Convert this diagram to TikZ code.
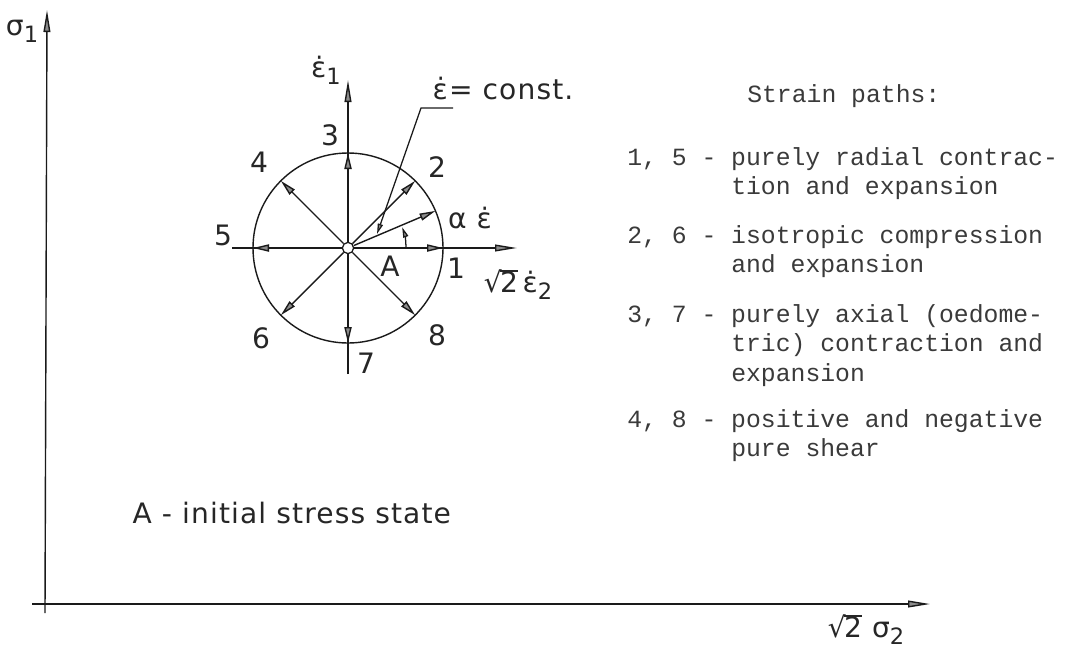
\documentclass[tikz,border=0pt]{standalone}
\usepackage{fontspec}
\setmainfont{DejaVu Sans}[LetterSpace=4.0]
\newfontfamily\listfont{Liberation Mono}
\usepackage{xcolor}
\definecolor{cLine}{HTML}{1A1A1A}
\definecolor{cTip}{HTML}{8C8C8C}
\definecolor{cText}{HTML}{262626}
\definecolor{cList}{HTML}{3A3A3A}
\usepackage{tikz}
\usetikzlibrary{positioning,arrows.meta,calc}
% Index tief gestellt, fast in voller Groesse
\newcommand{\lowidx}[1]{\raisebox{-0.45ex}{\fontsize{16}{16}\selectfont #1}}
% Wurzel aus 2 in Schrift des Textes
\newcommand{\rttwo}{√\kern-0.06em\rlap{\rule[0.74em]{0.64em}{0.065em}}2}
\tikzset{
  node-lbl/.style={inner sep=1pt,text=cText,font=\fontsize{20}{23}\selectfont},
  node-list/.style={inner sep=0pt,anchor=base west,text=cList,
    font=\listfont\fontsize{17.6}{21}\selectfont},
  node-origin/.style={draw=cLine,line width=0.9pt,circle,fill=white,
    inner sep=0pt,minimum size=8},
  % Achsen: lange graue Spitzen, Pfade: kurze Spitzen am Kreis
  arrow-axis/.style={-{Triangle[length=5.5mm,width=1.7mm,fill=cTip]},
    line width=1pt,draw=cLine},
  arrow-path/.style={-{Triangle[length=4mm,width=1.8mm,fill=cTip]},
    line width=1pt,draw=cLine},
  arrow-small/.style={-{Triangle[length=2.6mm,width=1.3mm,fill=cTip]},
    line width=0.9pt,draw=cLine},
}

\begin{document}
\begin{tikzpicture}[x=0.025cm,y=-0.025cm]
  \useasboundingbox (0,0) rectangle (1083,653);

  % stress plane
  \coordinate (sx0) at (32,604);
  \coordinate (sx1) at (930,604);
  \coordinate (sy0) at (45,613);
  \coordinate (sy1) at (47,10);
  \draw[arrow-axis] (sx0) -- (sx1);
  \draw[arrow-axis] (sy0) -- (sy1);
  \node[node-lbl] (sig1) at (22,31) {σ\lowidx{1}};
  \node[node-lbl] (sig2) at (866,630) {\rttwo\ σ\lowidx{2}};

  % strain rate circle round A
  \coordinate (c) at (348,248);
  \draw[line width=1pt,draw=cLine] (c) circle[radius=95];
  \coordinate (ex0) at (232,248);
  \coordinate (ex1) at (517,248);
  \coordinate (ey0) at (348,374);
  \coordinate (ey1) at (348,80);
  \draw[arrow-axis] (ex0) -- (ex1);
  \draw[arrow-axis] (ey0) -- (ey1);
  \node[node-origin] (A) at (c) {};
  \foreach \n/\ang in {1/0,2/45,3/90,4/135,5/180,6/225,7/270,8/315} {
    \coordinate (p\n) at ($(c)+(-\ang:95)$);
    \draw[arrow-path] (A) -- (p\n);
  }
  \coordinate (pa) at ($(c)+(-23:95)$);
  \draw[arrow-path] (A) -- (pa);
  \draw[arrow-small] ($(c)+(58,0)$) arc[start angle=0,end angle=-21,radius=58];

  % leader to the constant rate
  \coordinate (k1) at (453,108);
  \coordinate (k2) at (421,108);
  \coordinate (ltip) at (377,234);
  \draw[arrow-small] (k1) -- (k2) -- (ltip);

  \node[node-lbl] (e1) at (326,70) {ε̇\lowidx{1}};
  \node[node-lbl,anchor=base west] (rate) at (431,99) {ε̇= const.};
  \node[node-lbl] (e2) at (518,285) {\rttwo\,ε̇\lowidx{2}};
  \node[node-lbl] (alpha) at (470,218) {α ε̇};
  \node[node-lbl] (lblA) at (390,266) {A};
  \node[node-lbl] (n1) at (456,268) {1};
  \node[node-lbl] (n2) at (437,167) {2};
  \node[node-lbl] (n3) at (330,135) {3};
  \node[node-lbl] (n4) at (259,162) {4};
  \node[node-lbl] (n5) at (223,235) {5};
  \node[node-lbl] (n6) at (261,338) {6};
  \node[node-lbl] (n7) at (366,363) {7};
  \node[node-lbl] (n8) at (437,335) {8};
  \node[node-lbl,anchor=base west] (init) at (131,523) {A - initial stress state};

  % legend
  \node[node-list] (head) at (747,102) {Strain paths:};
  \node[node-list] (p15) at (627,165) {1, 5 - purely radial contrac-};
  \node[node-list] (p15b) at ($(p15.base west)+(0,29.5)$) {\phantom{1, 5 - }tion and expansion};
  \node[node-list] (p26) at (627,243) {2, 6 - isotropic compression};
  \node[node-list] (p26b) at ($(p26.base west)+(0,29.5)$) {\phantom{2, 6 - }and expansion};
  \node[node-list] (p37) at (627,322) {3, 7 - purely axial (oedome-};
  \node[node-list] (p37b) at ($(p37.base west)+(0,29.5)$) {\phantom{3, 7 - }tric) contraction and};
  \node[node-list] (p37c) at ($(p37b.base west)+(0,29.5)$) {\phantom{3, 7 - }expansion};
  \node[node-list] (p48) at (627,427) {4, 8 - positive and negative};
  \node[node-list] (p48b) at ($(p48.base west)+(0,29.5)$) {\phantom{4, 8 - }pure shear};
\end{tikzpicture}
\end{document}
